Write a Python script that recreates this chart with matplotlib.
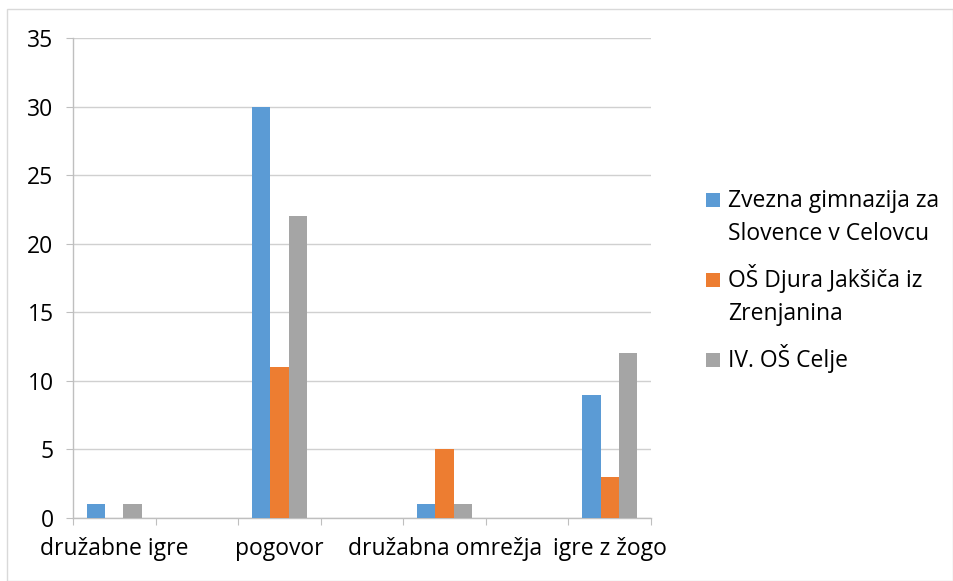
import matplotlib
matplotlib.use("Agg")
import matplotlib.pyplot as plt
import numpy as np
from matplotlib.patches import Rectangle

# slots on the x axis; the empty ones are blank categories in the source chart
categories = ["družabne igre", "", "pogovor", "", "družabna omrežja", "", "igre z žogo"]
groups = ["družabne igre", "pogovor", "družabna omrežja", "igre z žogo"]
series_names = [
    ["Zvezna gimnazija za", "Slovence v Celovcu"],
    ["OŠ Djura Jakšiča iz", "Zrenjanina"],
    ["IV. OŠ Celje"],
]
zvezna = [1, 30, 1, 9]
djura = [0, 11, 5, 3]
celje = [1, 22, 1, 12]
y_ticks = [0, 5, 10, 15, 20, 25, 30, 35]

colors = ["#5B9BD5", "#ED7D31", "#A5A5A5"]
axis_grey = "#BFBFBF"
grid_grey = "#D0D0D0"

plt.rcParams["font.family"] = ["Open Sans", "DejaVu Sans"]
fs = 16.5

W, H = 954, 581
fig = plt.figure(figsize=(W / 100, H / 100), dpi=100)
ax = fig.add_axes([73 / W, 1 - 518 / H, (651 - 73) / W, (518 - 38) / H])

n_series = 3
bar_w = 1 / (n_series + 1.5)
slot_of = {c: i for i, c in enumerate(categories) if c}
xpos = np.array([slot_of[g] for g in groups])
for k, vals in enumerate([zvezna, djura, celje]):
    ax.bar(xpos + (k - 1) * bar_w, vals, width=bar_w, color=colors[k], zorder=3)

ax.set_xlim(-0.5, len(categories) - 0.5)
ax.set_ylim(0, 35)
ax.set_yticks(y_ticks)
ax.set_yticklabels([str(v) for v in y_ticks], fontsize=fs)
ax.yaxis.grid(True, color=grid_grey, linewidth=1, zorder=0)

ax.set_xticks(np.arange(len(categories) + 1) - 0.5)
ax.set_xticklabels([])
ax.set_xticks(np.arange(len(categories)), minor=True)
ax.set_xticklabels(categories, minor=True, fontsize=fs)
ax.tick_params(axis="x", which="major", length=5, color=axis_grey, direction="out")
ax.tick_params(axis="x", which="minor", length=0, pad=14)
ax.tick_params(axis="y", length=5, color=axis_grey, pad=9)

for side in ["top", "right"]:
    ax.spines[side].set_visible(False)
for side in ["left", "bottom"]:
    ax.spines[side].set_color(axis_grey)
    ax.spines[side].set_linewidth(1)
ax.set_facecolor("none")

# legend drawn by hand so the swatch sits on the first text line, like Excel
def px(x, y):
    return x / W, 1 - y / H

line_gap, entry_gap = 33, 47
baseline = 207
for k, lines in enumerate(series_names):
    sx, sy = px(706, baseline)
    fig.patches.append(Rectangle((sx, sy), 14 / W, 14 / H, transform=fig.transFigure,
                                 facecolor=colors[k], edgecolor="none"))
    for j, line in enumerate(lines):
        tx, ty = px(728, baseline + j * line_gap)
        fig.text(tx, ty, line, fontsize=fs, ha="left", va="baseline", color="#000000")
    baseline += (len(lines) - 1) * line_gap + entry_gap

fig.patches.append(Rectangle((7.5 / W, 0.5 / H), (W - 8) / W, (H - 9) / H,
                             transform=fig.transFigure, fill=False,
                             edgecolor="#D9D9D9", linewidth=1))

fig.savefig("out.png", dpi=100)
